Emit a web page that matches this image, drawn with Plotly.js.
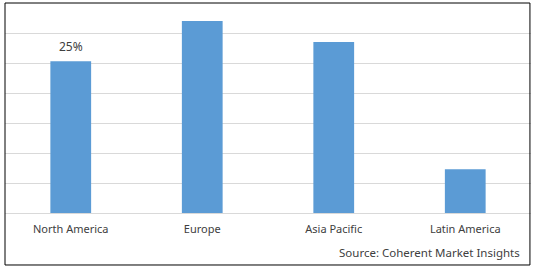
<!DOCTYPE html>
<html>
<head>
<meta charset="utf-8">
<script src="https://cdn.plot.ly/plotly-3.0.1.min.js"></script>
<style>
html,body{margin:0;padding:0;background:#fff;}
#chart{width:538px;height:272px;}
</style>
</head>
<body>
<div id="chart"></div>
<script>
const categories = ['North America', 'Europe', 'Asia Pacific', 'Latin America'];
const shares = [25.3, 32, 28.5, 7.3];
const dataLabels = ['25%', '', '', ''];
const sourceText = 'Source: Coherent Market Insights';

const textColor = '#404040';
const font = {family: 'Noto Sans, Open Sans, sans-serif', size: 11, color: textColor};

const annotations = [];
dataLabels.forEach((t, i) => {
  if (t) annotations.push({
    x: categories[i], y: shares[i], xref: 'x', yref: 'y',
    text: t, showarrow: false, yanchor: 'bottom', yshift: 4,
    font: Object.assign({}, font, {size: 12})
  });
});
annotations.push({
  xref: 'paper', yref: 'paper', x: 0.982, y: -0.19,
  xanchor: 'right', yanchor: 'middle', showarrow: false,
  text: sourceText, font: Object.assign({}, font, {size: 11.5})
});

Plotly.newPlot('chart', [{
  type: 'bar', x: categories, y: shares,
  marker: {color: '#5b9bd5'}, width: 0.31, hoverinfo: 'none'
}], {
  width: 538, height: 272,
  margin: {l: 5, r: 7, t: 3, b: 59},
  paper_bgcolor: '#fff', plot_bgcolor: '#fff',
  showlegend: false,
  font: font,
  xaxis: {
    showgrid: false, zeroline: false, showline: false, ticks: '',
    tickfont: font, ticklabelstandoff: 8, fixedrange: true
  },
  yaxis: {
    range: [0, 35], dtick: 5, showticklabels: false, ticks: '',
    showgrid: true, gridcolor: '#d9d9d9', gridwidth: 1,
    zeroline: true, zerolinecolor: '#d9d9d9', zerolinewidth: 1,
    showline: false, fixedrange: true
  },
  annotations: annotations,
  shapes: [{
    type: 'rect', xref: 'paper', yref: 'paper',
    x0: 0, x1: 0.998, y0: -0.2476, y1: 1,
    line: {color: '#000', width: 1}, fillcolor: 'rgba(0,0,0,0)', layer: 'above'
  }]
}, {displayModeBar: false, staticPlot: true});
</script>
</body>
</html>
